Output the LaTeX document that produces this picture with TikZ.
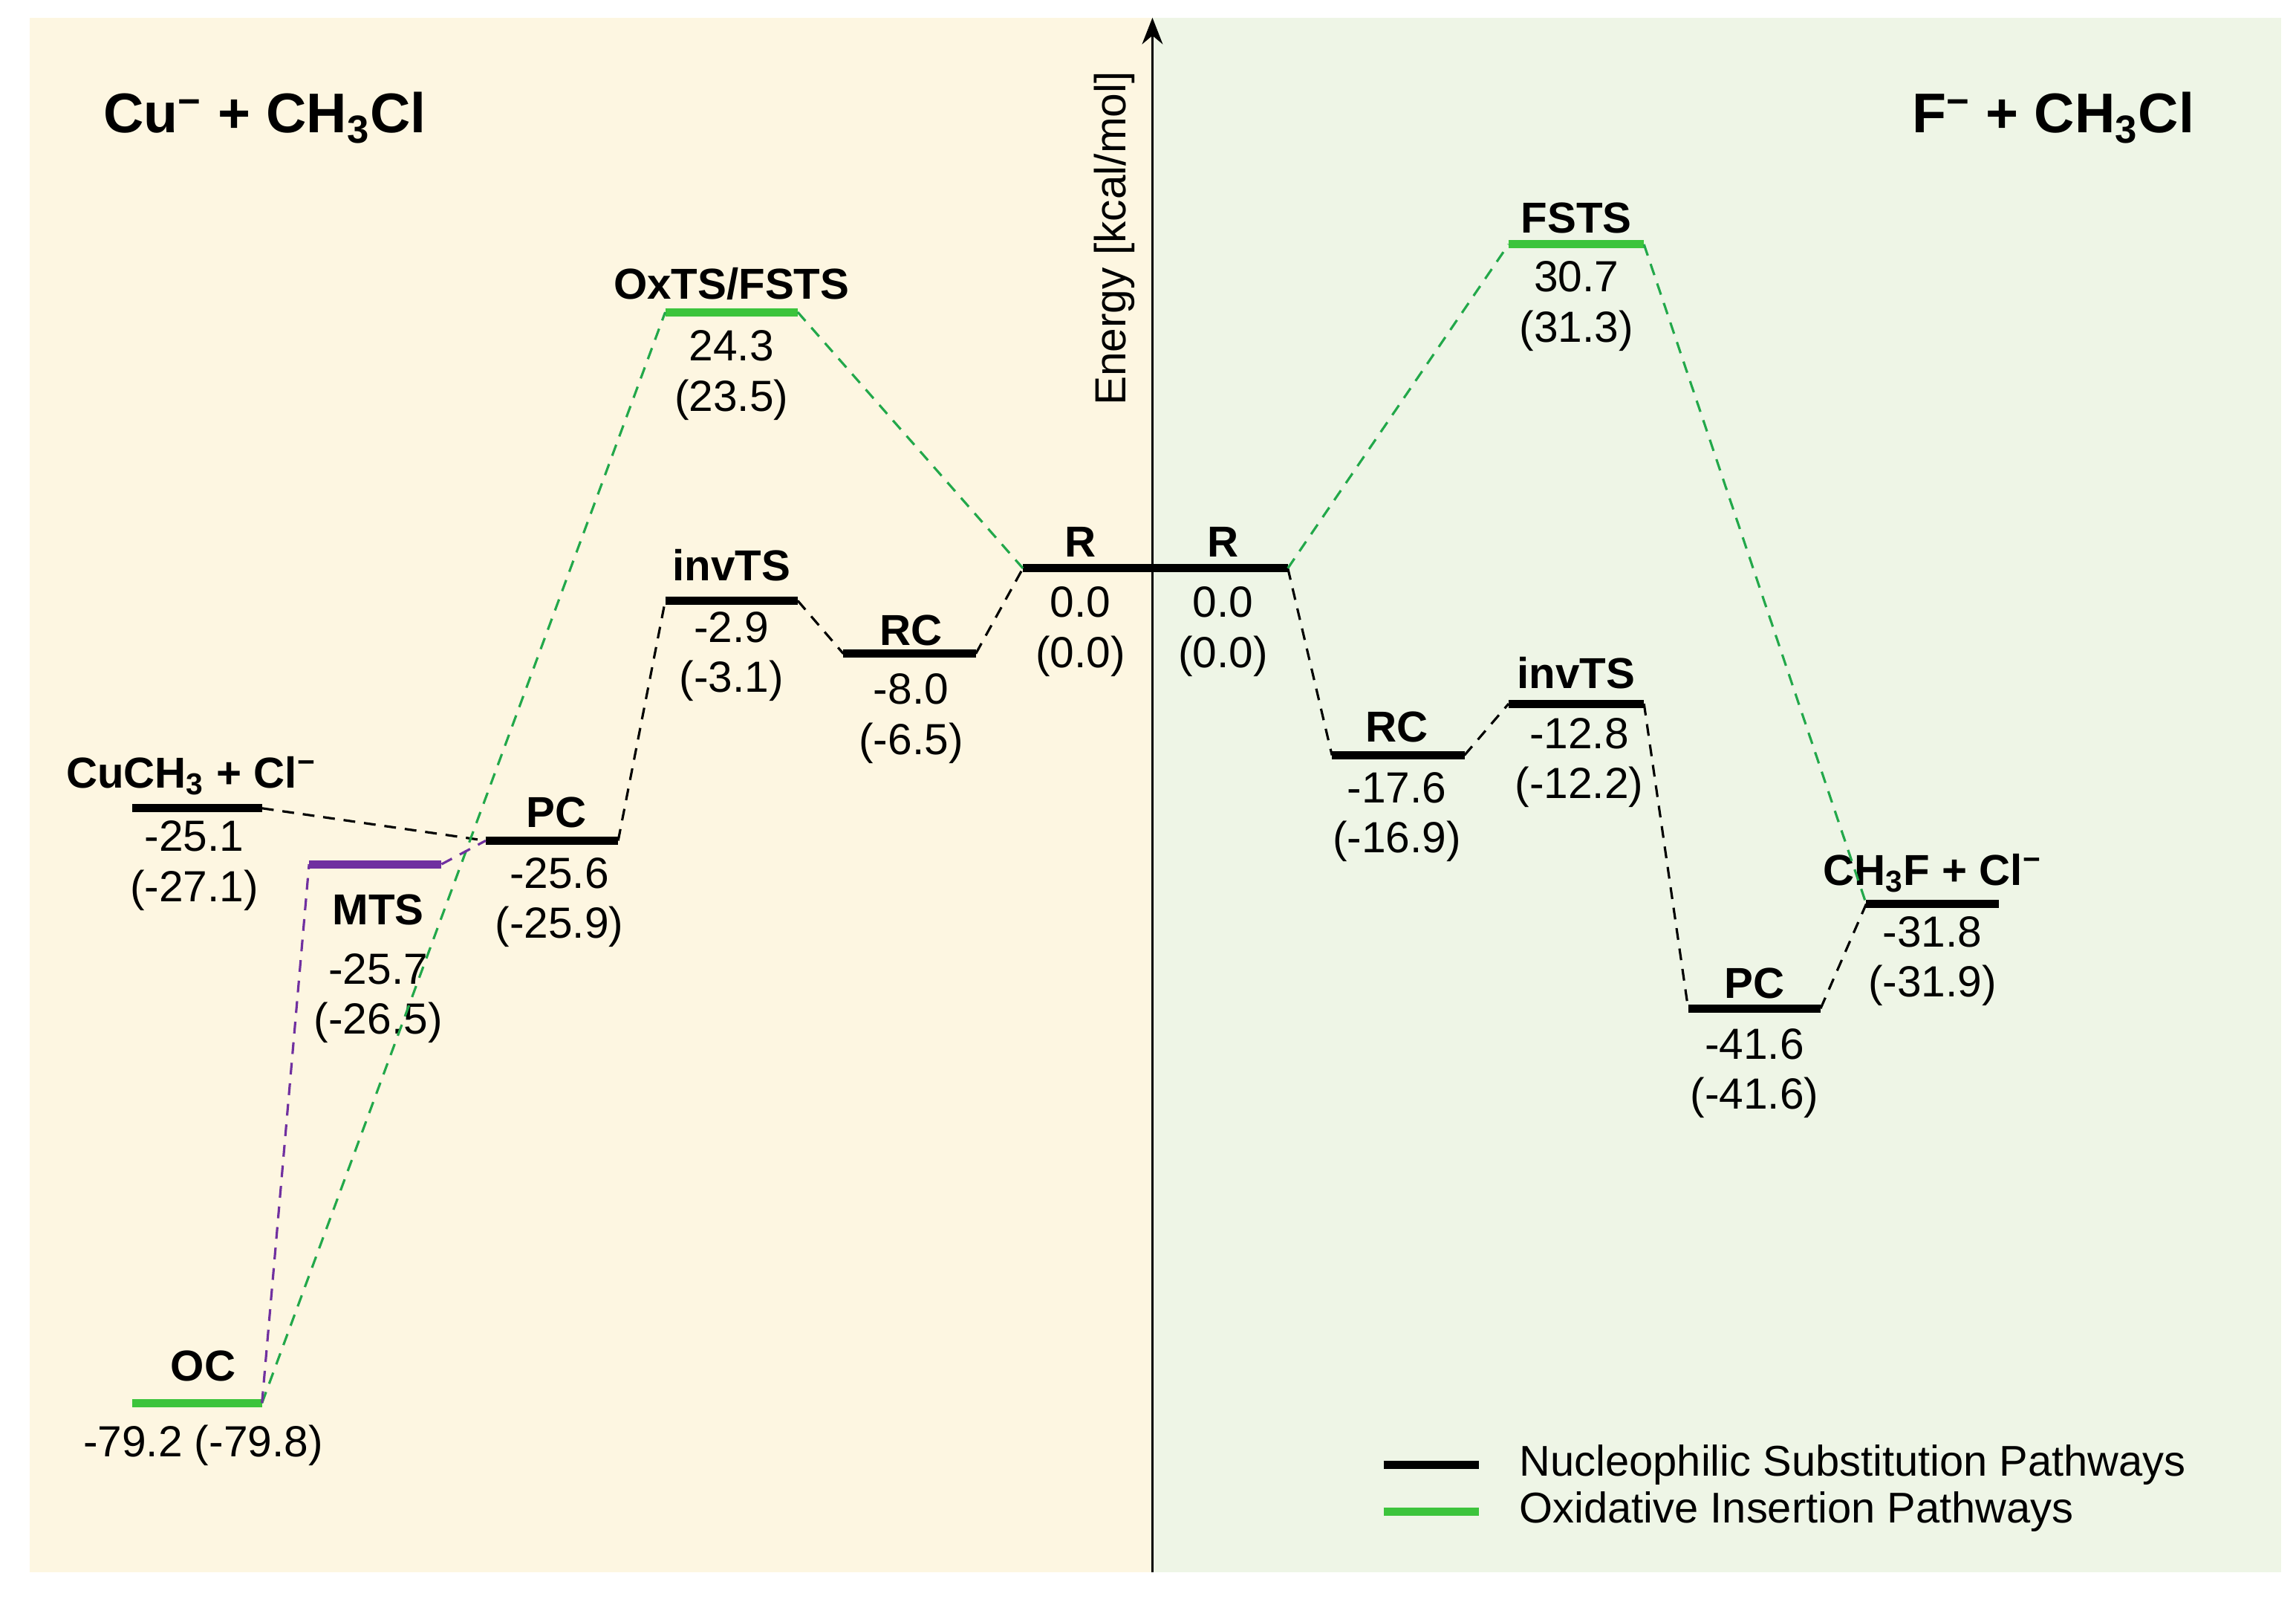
\documentclass[tikz,border=0pt]{standalone}
\usepackage{fontspec}
\setmainfont{Liberation Sans}
\usetikzlibrary{arrows.meta}
\definecolor{bgy}{HTML}{FDF6E1}
\definecolor{bgg}{HTML}{EEF5E6}
\definecolor{lgreen}{HTML}{3CC43C}
\definecolor{dgreen}{HTML}{22A84A}
\definecolor{purp}{HTML}{7030A0}
\tikzset{
  bar/.style={line width=2.8pt},
  conn/.style={line width=0.8pt, dash pattern=on 4pt off 3pt},
  lab/.style={font=\fontsize{14.7}{17}\selectfont\bfseries, inner sep=0pt},
  val/.style={font=\fontsize{14.8}{17}\selectfont, inner sep=0pt, align=center},
  ttl/.style={font=\fontsize{19}{22}\selectfont\bfseries, inner sep=0pt},
  leg/.style={font=\fontsize{14.6}{17}\selectfont, inner sep=0pt, anchor=west}
}
% \lvl{name}{x1}{x2}{y}{color}
\newcommand{\lvl}[5]{%
  \coordinate (#1-l) at (#2,#4);
  \coordinate (#1-r) at (#3,#4);
  \draw[bar,#5] (#1-l) -- (#1-r);}
\begin{document}
\begin{tikzpicture}[x=0.5pt,y=-0.5pt]
\useasboundingbox (0,0) rectangle (1560,1086);
\fill[white] (0,0) rectangle (1560,1086);
\fill[bgy] (20,12) rectangle (783,1068);
\fill[bgg] (783,12) rectangle (1550,1068);
% axis
\coordinate (ax0) at (783,1068);
\coordinate (ax1) at (783,12);
\draw[line width=0.9pt,-{Stealth[length=9pt,width=7pt]}] (ax0) -- (ax1);
\node[rotate=90, font=\fontsize{14.8}{17}\selectfont, inner sep=0pt] (axl) at (757,162) {Energy [kcal/mol]};
% titles
\node[ttl] (t1) at (180,80) {Cu\textsuperscript{−} + CH\textsubscript{3}Cl};
\node[ttl] (t2) at (1395,80) {F\textsuperscript{−} + CH\textsubscript{3}Cl};
% left levels
\lvl{OC}{90}{178}{953}{lgreen}
\lvl{MTS}{210}{300}{587}{purp}
\lvl{CU}{90}{178}{549}{black}
\lvl{PCL}{330}{420}{571}{black}
\lvl{ITL}{452}{542}{408}{black}
\lvl{RCL}{573}{663}{444}{black}
\lvl{OX}{452}{542}{212}{lgreen}
\lvl{RL}{695}{783}{386}{black}
% right levels
\lvl{RR}{783}{875}{386}{black}
\lvl{FS}{1025}{1117}{166}{lgreen}
\lvl{RCR}{905}{995}{513}{black}
\lvl{ITR}{1025}{1117}{478}{black}
\lvl{PCR}{1147}{1237}{685}{black}
\lvl{PF}{1268}{1358}{614}{black}
% labels
\node[lab] (nOC) at (138,928) {OC};
\node[val] (vOC) at (138,982) {-79.2 (-79.8)};
\node[lab] (nMTS) at (257,618) {MTS};
\node[val] (vMTS) at (257,678) {-25.7\\[0pt](-26.5)};
\node[lab] (nCU) at (130,527) {CuCH\textsubscript{3} + Cl\textsuperscript{−}};
\node[val] (vCU) at (132,588) {-25.1\\[0pt](-27.1)};
\node[lab] (nPCL) at (378,552) {PC};
\node[val] (vPCL) at (380,613) {-25.6\\[0pt](-25.9)};
\node[lab] (nITL) at (497,384) {invTS};
\node[val] (vITL) at (497,446) {-2.9\\[0pt](-3.1)};
\node[lab] (nRCL) at (619,428) {RC};
\node[val] (vRCL) at (619,488) {-8.0\\[0pt](-6.5)};
\node[lab] (nOX) at (497,193) {OxTS/FSTS};
\node[val] (vOX) at (497,255) {24.3\\[0pt](23.5)};
\node[lab] (nRL) at (734,368) {R};
\node[val] (vRL) at (734,429) {0.0\\[0pt](0.0)};
\node[lab] (nRR) at (831,368) {R};
\node[val] (vRR) at (831,429) {0.0\\[0pt](0.0)};
\node[lab] (nFS) at (1071,148) {FSTS};
\node[val] (vFS) at (1071,208) {30.7\\[0pt](31.3)};
\node[lab] (nRCR) at (949,494) {RC};
\node[val] (vRCR) at (949,555) {-17.6\\[0pt](-16.9)};
\node[lab] (nITR) at (1071,457) {invTS};
\node[val] (vITR) at (1073,518) {-12.8\\[0pt](-12.2)};
\node[lab] (nPCR) at (1192,668) {PC};
\node[val] (vPCR) at (1192,729) {-41.6\\[0pt](-41.6)};
\node[lab] (nPF) at (1313,593) {CH\textsubscript{3}F + Cl\textsuperscript{−}};
\node[val] (vPF) at (1313,653) {-31.8\\[0pt](-31.9)};
% connectors left
\draw[conn] (CU-r) -- (PCL-l);
\draw[conn] (PCL-r) -- (ITL-l);
\draw[conn] (ITL-r) -- (RCL-l);
\draw[conn] (RCL-r) -- (RL-l);
\draw[conn,dgreen] (OC-r) -- (OX-l);
\draw[conn,dgreen] (OX-r) -- (RL-l);
\draw[conn,purp] (OC-r) -- (MTS-l);
\draw[conn,purp] (MTS-r) -- (PCL-l);
% connectors right
\draw[conn] (RR-r) -- (RCR-l);
\draw[conn] (RCR-r) -- (ITR-l);
\draw[conn] (ITR-r) -- (PCR-l);
\draw[conn] (PCR-r) -- (PF-l);
\draw[conn,dgreen] (RR-r) -- (FS-l);
\draw[conn,dgreen] (FS-r) -- (PF-l);
% legend
\coordinate (lg1a) at (940,995); \coordinate (lg1b) at (1005,995);
\coordinate (lg2a) at (940,1027); \coordinate (lg2b) at (1005,1027);
\draw[bar] (lg1a) -- (lg1b);
\draw[bar,lgreen] (lg2a) -- (lg2b);
\node[leg] (lt1) at (1032,995) {Nucleophilic Substitution Pathways};
\node[leg] (lt2) at (1032,1027) {Oxidative Insertion Pathways};
\end{tikzpicture}
\end{document}
